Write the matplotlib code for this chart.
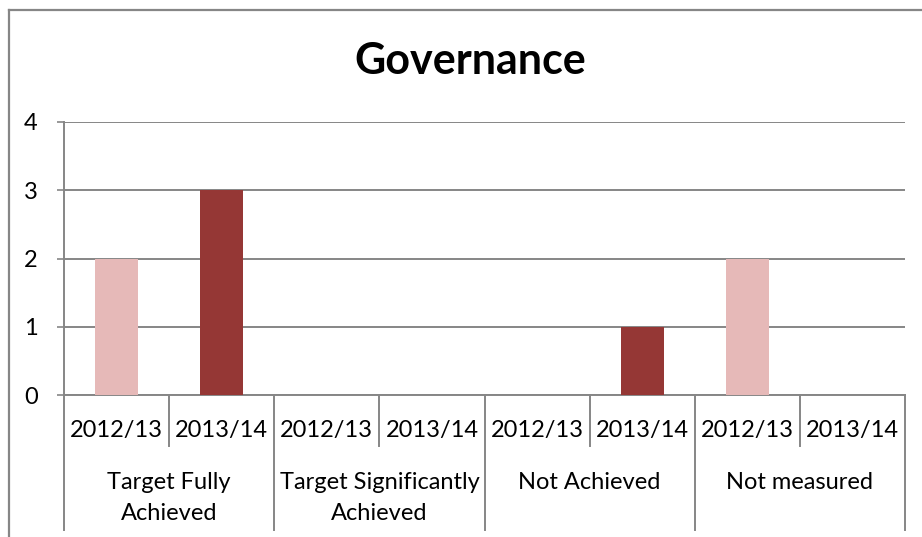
import matplotlib.pyplot as plt
from matplotlib.lines import Line2D
import matplotlib.transforms as mtransforms

plt.rcParams['font.family'] = ['Lato', 'DejaVu Sans']

# data
groups = ["Target Fully\nAchieved", "Target Significantly\nAchieved", "Not Achieved", "Not measured"]
years = ["2012/13", "2013/14"]
values_2012 = [2, 0, 0, 2]
values_2013 = [3, 0, 1, 0]
yticks = [0, 1, 2, 3, 4]

pink = "#E6B9B8"
dark = "#953735"
grey = "#868686"

W, H = 922, 537
fig = plt.figure(figsize=(W / 100, H / 100), dpi=100)

left, right, top, bottom = 64, 905, 122, 395
ax = fig.add_axes([left / W, 1 - bottom / H, (right - left) / W, (bottom - top) / H])

n = len(groups)
x12 = [2 * i for i in range(n)]
x13 = [2 * i + 1 for i in range(n)]
bw = 0.41
ax.bar(x12, values_2012, width=bw, color=pink, zorder=3)
ax.bar(x13, values_2013, width=bw, color=dark, zorder=3)

ax.set_xlim(-0.5, 2 * n - 0.5)
ax.set_ylim(0, 4)
ax.set_yticks(yticks)
ax.set_yticklabels([str(v) for v in yticks], fontsize=17)
ax.set_xticks([])
ax.yaxis.grid(True, color=grey, linewidth=1.4, zorder=0)
ax.tick_params(axis='y', length=5, width=1.2, color=grey, pad=14)

for s in ["top", "right"]:
    ax.spines[s].set_visible(False)
for s in ["left", "bottom"]:
    ax.spines[s].set_color(grey)
    ax.spines[s].set_linewidth(1.4)

# multi-level category axis
trans = mtransforms.blended_transform_factory(ax.transData, ax.transAxes)
ax_h = bottom - top
short_y = -(446 - bottom) / ax_h
long_y = -(530 - bottom) / ax_h
for k in range(2 * n + 1):
    xb = k - 0.5
    y_end = long_y if k % 2 == 0 else short_y
    ax.plot([xb, xb], [0, y_end], color=grey, linewidth=1.4, transform=trans, clip_on=False)

sub_y = -(430 - bottom) / ax_h
grp_y = -(472 - bottom) / ax_h
for i, g in enumerate(groups):
    for j, yr in enumerate(years):
        ax.text(2 * i + j, sub_y, yr, transform=trans, ha='center', va='center', fontsize=17)
    ax.text(2 * i + 0.5, grp_y, g, transform=trans, ha='center', va='top',
            fontsize=17, linespacing=1.6)

# title
fig.text(470 / W, 1 - 61 / H, "Governance", ha='center', va='center', fontsize=31, fontweight='bold')

# chart border (cropped)
fig.add_artist(Line2D([9 / W, 9 / W], [1 - 10 / H, 0], color=grey, linewidth=1.6))
fig.add_artist(Line2D([9 / W, 1], [1 - 10 / H, 1 - 10 / H], color=grey, linewidth=1.6))

fig.savefig("out.png", dpi=100)
